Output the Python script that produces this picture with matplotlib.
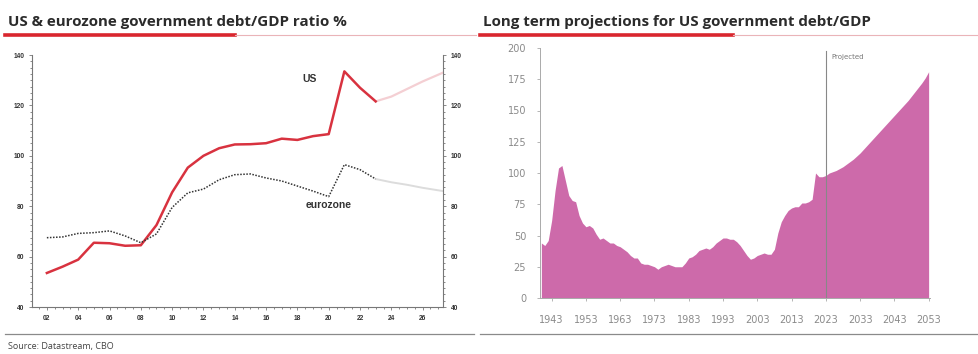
import matplotlib.pyplot as plt
from matplotlib.ticker import MultipleLocator, FuncFormatter
from matplotlib.lines import Line2D

# left panel: debt/GDP ratio %, actual to 2023 then projected
years = [2002, 2003, 2004, 2005, 2006, 2007, 2008, 2009, 2010, 2011, 2012, 2013,
         2014, 2015, 2016, 2017, 2018, 2019, 2020, 2021, 2022, 2023]
us = [53.5, 56, 58.8, 65.5, 65.3, 64.3, 64.5, 72.5, 85.5, 95.3, 100, 103,
      104.5, 104.6, 105, 106.8, 106.3, 107.8, 108.6, 133.5, 127, 121.6]
ez = [67.5, 67.8, 69.2, 69.5, 70.2, 68.2, 65.5, 69, 79.5, 85.3, 86.8, 90.5,
      92.5, 92.8, 91.2, 90, 88, 86, 83.8, 96.5, 94.5, 90.8]
proj_years = [2023, 2024, 2025, 2026, 2027.3]
us_proj = [121.6, 123.5, 126.5, 129.5, 133]
ez_proj = [90.8, 89.5, 88.5, 87.3, 86]

# right panel: US federal debt held by public, % of GDP (CBO)
lt_years = list(range(1940, 2054))
lt_debt = [44, 42, 46, 62, 86, 104, 106, 94, 82, 78, 77, 66, 60, 57, 58, 56, 51,
           47, 48, 46, 44, 44, 42, 41, 39, 37, 34, 32, 32, 28, 27, 27, 26, 25, 23,
           25, 26, 27, 26, 25, 25, 25, 28, 32, 33, 35, 38, 39, 40, 39, 41, 44, 46,
           48, 48, 47, 47, 45, 42, 38, 34, 31, 32, 34, 35, 36, 35, 35, 39, 52, 61,
           66, 70, 72, 73, 73, 76, 76, 77, 79, 100, 97, 97, 98,
           100, 101, 102, 103.5, 105, 107, 109, 111, 113.5, 116, 119, 122, 125,
           128, 131, 134, 137, 140, 143, 146, 149, 152, 155, 158, 161.5, 165,
           168.5, 172, 176, 181]

fig = plt.figure(figsize=(9.79, 3.54), dpi=100)
plt.rcParams['font.family'] = ['Open Sans', 'DejaVu Sans']

W, H = 979, 354


def px(x, y):
    return x / W, 1 - y / H


# headers with red underline
for x0, xr, x1, title in [(8, 235, 476, "US & eurozone government debt/GDP ratio %"),
                          (483, 733, 979, "Long term projections for US government debt/GDP")]:
    fig.text(*px(x0, 22), title, fontsize=10.9, fontweight='bold', color='#2b2b2b',
             va='center', ha='left', family='Open Sans')
    fig.add_artist(Line2D([(x0 - 3) / W, xr / W], [1 - 35 / H] * 2, color='#d9262e', lw=2.6))
    fig.add_artist(Line2D([xr / W, x1 / W], [1 - 35 / H] * 2, color='#eab4b8', lw=0.8))
    fig.add_artist(Line2D([(x0 - 3) / W, (x1 - 2) / W], [1 - 334 / H] * 2, color='#8a8a8a', lw=0.9))

fig.text(*px(8, 347), "Source: Datastream, CBO", fontsize=6.5, color='#444444', va='center')

# left chart
ax1 = fig.add_axes([32 / W, 1 - 307 / H, (443 - 32) / W, (307 - 55) / H])
ax1.plot(proj_years, us_proj, color='#f4cfd3', lw=1.6)
ax1.plot(proj_years, ez_proj, color='#dcdcdc', lw=1.4)
ax1.plot(years, us, color='#d8323f', lw=1.8)
ax1.plot(years, ez, color='#333333', lw=1.1, ls=(0, (1, 1)))
ax1.set_xlim(2001.05, 2027.3)
ax1.set_ylim(40, 140)
ax1.text(2018.8, 130.5, "US", fontsize=7.5, fontweight='bold', color='#333333',
         family='Liberation Sans', ha='center', va='center')
ax1.text(2020.0, 80.5, "eurozone", fontsize=7.5, fontweight='bold', color='#333333',
         family='Liberation Sans', ha='center', va='center')
ax1.spines['top'].set_visible(False)
for s in ['left', 'right', 'bottom']:
    ax1.spines[s].set_color('#777777')
    ax1.spines[s].set_linewidth(0.8)
ax1.xaxis.set_major_locator(MultipleLocator(2))
ax1.xaxis.set_minor_locator(MultipleLocator(0.5))
ax1.xaxis.set_major_formatter(FuncFormatter(lambda v, p: f"{int(v) % 100:02d}"))
ax1.yaxis.set_major_locator(MultipleLocator(20))
ax1.yaxis.set_minor_locator(MultipleLocator(2.5))
ax1.tick_params(axis='both', which='both', colors='#777777', labelcolor='#333333',
                labelsize=4.8, length=2, width=0.6, direction='out')
ax1.tick_params(axis='y', which='both', right=True, labelright=True)
ax1.tick_params(which='minor', length=1.2)
ax1.set_xticks([y for y in range(2002, 2027, 2)])
for lab in ax1.get_xticklabels() + ax1.get_yticklabels():
    lab.set_fontweight('bold')
    lab.set_family('Liberation Sans')

# right chart
ax2 = fig.add_axes([540 / W, 1 - 298 / H, (930 - 540) / W, (298 - 48) / H])
ax2.fill_between(lt_years, lt_debt, color='#cd6aaa', lw=0)
ax2.axvline(2023, color='#888888', lw=0.8, ymax=0.99)
ax2.text(2024.6, 193, "Projected", fontsize=5, color='#777777', ha='left', va='center',
         family='Liberation Sans Narrow')
ax2.set_xlim(1939.6, 2053.4)
ax2.set_ylim(0, 200)
ax2.set_xticks(list(range(1943, 2054, 10)))
ax2.set_yticks(list(range(0, 201, 25)))
for s in ['top', 'right']:
    ax2.spines[s].set_visible(False)
for s in ['left', 'bottom']:
    ax2.spines[s].set_color('#aaaaaa')
    ax2.spines[s].set_linewidth(0.7)
ax2.tick_params(axis='both', colors='#aaaaaa', labelcolor='#8a8a8a', labelsize=7,
                length=2, width=0.6)
ax2.tick_params(axis='y', pad=8)
ax2.tick_params(axis='x', pad=10)
for lab in ax2.get_xticklabels() + ax2.get_yticklabels():
    lab.set_family('Liberation Sans Narrow')

fig.savefig('out.png', dpi=100)
